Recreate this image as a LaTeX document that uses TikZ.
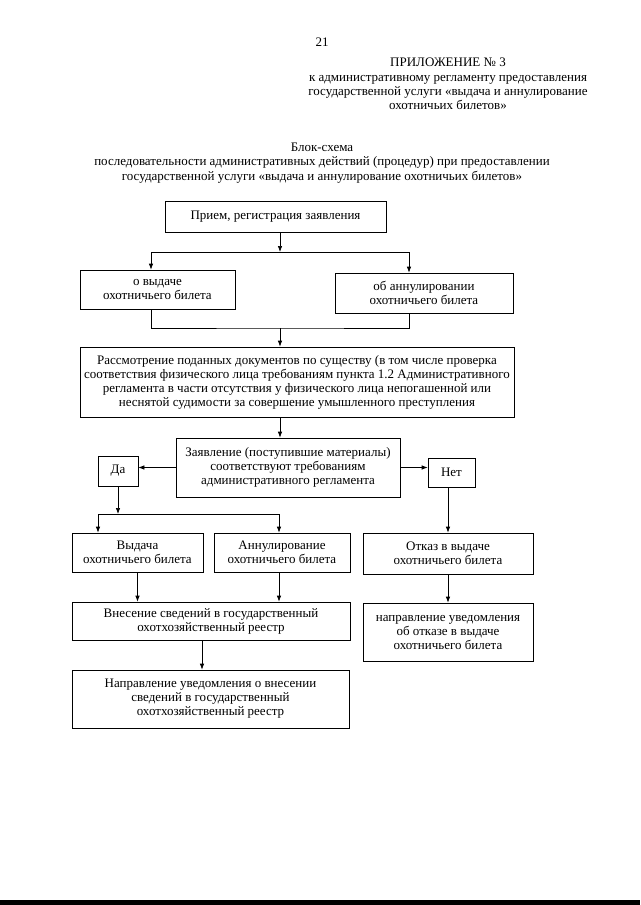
\documentclass[tikz,border=0pt]{standalone}
\usepackage{fontspec}
\setmainfont{Liberation Serif}
\usetikzlibrary{arrows.meta,positioning}

\begin{document}
\begin{tikzpicture}[x=1pt, y=-1pt]
    \tikzstyle{block} = [rectangle, draw, line width=0.7pt, align=center, inner sep=1pt,
                         font=\fontsize{13}{14}\selectfont]
    \tikzstyle{head} = [align=center, font=\fontsize{13}{14.3}\selectfont]
    \tikzstyle{arr} = [-{Latex[length=6pt,width=4.5pt]}, line width=0.7pt]

    \useasboundingbox (0,0) rectangle (640,905);

    % Header
    \node[head] (pg) at (322,42) {21};
    \node[head] (app) at (448,84) {ПРИЛОЖЕНИЕ № 3\\к административному регламенту предоставления\\государственной услуги «выдача и аннулирование\\охотничьих билетов»};
    \node[head] (ttl) at (322,163) {Блок-схема\\последовательности административных действий (процедур) при предоставлении\\государственной услуги «выдача и аннулирование охотничьих билетов»};

    % Row 1
    \node[block, minimum width=221, minimum height=31] (prm) at (275.5,216.5) {Прием, регистрация заявления};
    \node[block, minimum width=155, minimum height=39] (vyd) at (157.5,289.5) {о выдаче\\охотничьего билета};
    \node[block, minimum width=178, minimum height=40] (ann) at (424,293) {об аннулировании\\охотничьего билета};

    % Row 2
    \node[block, minimum width=434, minimum height=70] (rass) at (297,382) {Рассмотрение поданных документов по существу (в том числе проверка\\соответствия физического лица требованиям пункта 1.2 Административного\\регламента в части отсутствия у физического лица непогашенной или\\неснятой судимости за совершение умышленного преступления};
    \node[block, minimum width=224, minimum height=59] (zayav) at (288,467.5) {Заявление (поступившие материалы)\\соответствуют требованиям\\административного регламента};
    \node[block, minimum width=40, minimum height=30] (da) at (118,471) {Да};
    \node[block, minimum width=47, minimum height=29] (net) at (451.5,472.5) {Нет};

    % Row 3
    \node[block, minimum width=131, minimum height=39] (vyd2) at (137.5,552.5) {Выдача\\охотничьего билета};
    \node[block, minimum width=136, minimum height=39] (ann2) at (282,552.5) {Аннулирование\\охотничьего билета};
    \node[block, minimum width=170, minimum height=41] (otk) at (448,553.5) {Отказ в выдаче\\охотничьего билета};
    \node[block, minimum width=278, minimum height=38] (vnes) at (211,621) {Внесение сведений в государственный\\охотхозяйственный реестр};
    \node[block, minimum width=170, minimum height=58] (uved) at (448,632) {направление уведомления\\об отказе в выдаче\\охотничьего билета};
    \node[block, minimum width=277, minimum height=58] (napr) at (210.5,699) {Направление уведомления о внесении\\сведений в государственный\\охотхозяйственный реестр};

    % Junction points
    \coordinate (s1) at (280,252);
    \coordinate (s2) at (280,328);
    \coordinate (s3) at (118,514);
    \coordinate (x1) at (151,0);
    \coordinate (x2) at (409,0);
    \coordinate (x3) at (98,0);
    \coordinate (x4) at (279,0);
    \coordinate (x5) at (448,0);
    \coordinate (x6) at (202,0);

    % Flow arrows
    \draw[arr] (prm.south -| s1) -- (s1);
    \draw[arr] (s1) -| (vyd.north -| x1);
    \draw[arr] (s1) -| (ann.north -| x2);
    \draw[line width=0.7pt] (vyd.south -| x1) |- (s2) -| (ann.south -| x2);
    \draw[arr] (s2) -- (rass.north -| s2);
    \draw[arr] (rass.south -| s2) -- (zayav.north -| s2);
    \draw[arr] (zayav.west) -- (da.east |- zayav.west);
    \draw[arr] (zayav.east) -- (net.west |- zayav.east);
    \draw[arr] (da.south) -- (s3);
    \draw[arr] (s3) -| (vyd2.north -| x3);
    \draw[arr] (s3) -| (ann2.north -| x4);
    \draw[arr] (net.south -| x5) -- (otk.north -| x5);
    \draw[arr] (otk.south) -- (uved.north);
    \draw[arr] (vyd2.south) -- (vyd2.south |- vnes.north);
    \draw[arr] (ann2.south -| x4) -- (vnes.north -| x4);
    \draw[arr] (vnes.south -| x6) -- (napr.north -| x6);

    % Scan edge
    \fill (0,900) rectangle (640,905);
\end{tikzpicture}
\end{document}
